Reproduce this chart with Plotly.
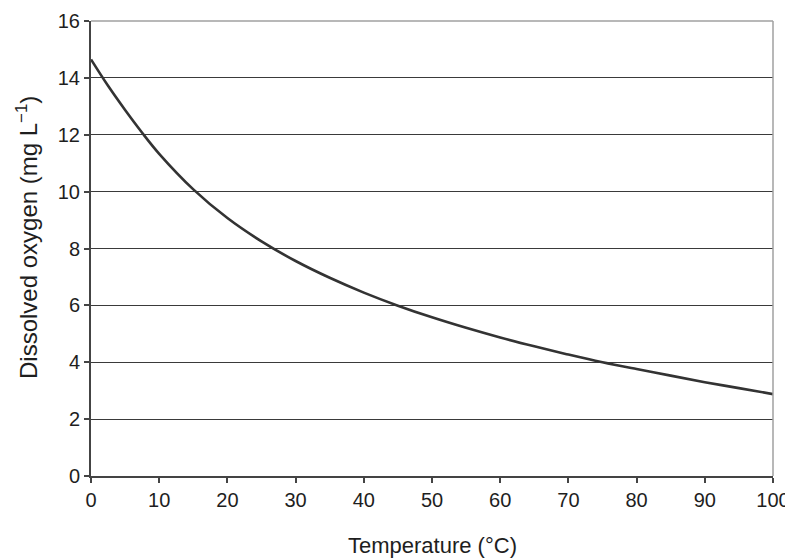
import plotly.graph_objects as go

temperature = [0, 2.5, 5, 7.5, 10, 15, 20, 25, 30, 35, 40, 45, 50, 55, 60, 65, 70, 75, 80, 85, 90, 95, 100]
dissolved_oxygen = [14.65, 13.72, 12.87, 12.07, 11.33, 10.08, 9.07, 8.25, 7.56, 6.97, 6.45, 5.99, 5.58,
                    5.21, 4.87, 4.56, 4.27, 4.0, 3.76, 3.53, 3.3, 3.09, 2.88]
x_ticks = [0, 10, 20, 30, 40, 50, 60, 70, 80, 90, 100]
y_ticks = [0, 2, 4, 6, 8, 10, 12, 14, 16]
x_title = "Temperature (°C)"
y_title = "Dissolved oxygen (mg L<sup>−1</sup>)"

FONT = "Liberation Sans, Arial, sans-serif"

fig = go.Figure()
fig.add_trace(go.Scatter(
    x=temperature, y=dissolved_oxygen, mode="lines",
    line=dict(color="#333333", width=2.6, shape="spline", smoothing=1.0),
    showlegend=False, hoverinfo="skip",
))

fig.update_layout(
    width=785, height=551,
    margin=dict(l=83, r=20, t=13, b=83, autoexpand=False),
    paper_bgcolor="white", plot_bgcolor="white",
    font=dict(family=FONT, size=20, color="#1e1e1e"),
    xaxis=dict(
        range=[0, 100], tickvals=x_ticks, ticktext=[str(v) for v in x_ticks],
        showgrid=False, zeroline=False, automargin=False,
        showline=True, linecolor="#444444", linewidth=2,
        ticks="outside", ticklen=5, tickwidth=1.5, tickcolor="#444444",
        tickfont=dict(size=20),
    ),
    yaxis=dict(
        range=[0, 16], tickvals=y_ticks, ticktext=[str(v) for v in y_ticks],
        showgrid=True, gridcolor="#3a3a3a", gridwidth=1.3,
        zeroline=False, automargin=False,
        showline=True, linecolor="#444444", linewidth=2,
        ticks="outside", ticklen=5, tickwidth=1.5, tickcolor="#444444",
        tickfont=dict(size=20),
    ),
    shapes=[
        dict(type="line", xref="paper", yref="paper", x0=0, x1=1, y0=1, y1=1,
             line=dict(color="#a0a0a0", width=1.5), layer="above"),
        dict(type="line", xref="paper", yref="paper", x0=1, x1=1, y0=0, y1=1,
             line=dict(color="#a0a0a0", width=1.5), layer="above"),
    ],
    annotations=[
        dict(text=x_title, xref="paper", yref="paper", x=0.5, y=-0.152,
             xanchor="center", yanchor="middle", showarrow=False,
             font=dict(size=22, color="#1e1e1e")),
        dict(text=y_title, xref="paper", yref="paper", x=-0.094, y=0.525,
             xanchor="center", yanchor="middle", showarrow=False, textangle=-90,
             font=dict(size=24, color="#1e1e1e")),
    ],
)

fig.write_html("out.html", post_script="document.body.style.overflow='hidden';")
